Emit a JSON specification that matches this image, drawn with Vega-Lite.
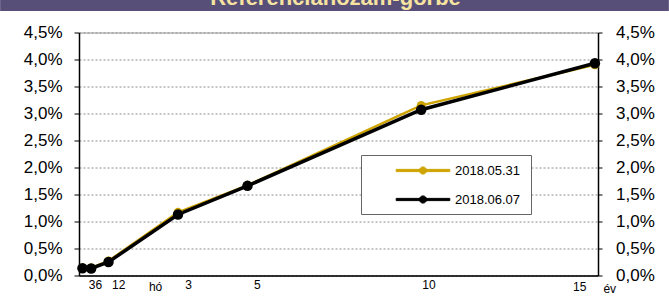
{
  "$schema": "https://vega.github.io/schema/vega-lite/v6.json",
  "padding": 0,
  "spacing": 11.5,
  "background": "white",
  "config": {"font": "Liberation Sans"},
  "datasets": {
    "curve": [
      {"date": "2018.05.31", "t": 0.25, "r": 0.14},
      {"date": "2018.05.31", "t": 0.5, "r": 0.14},
      {"date": "2018.05.31", "t": 1, "r": 0.27},
      {"date": "2018.05.31", "t": 3, "r": 1.17},
      {"date": "2018.05.31", "t": 5, "r": 1.67},
      {"date": "2018.05.31", "t": 10, "r": 3.15},
      {"date": "2018.05.31", "t": 15, "r": 3.9},
      {"date": "2018.06.07", "t": 0.25, "r": 0.135},
      {"date": "2018.06.07", "t": 0.5, "r": 0.13},
      {"date": "2018.06.07", "t": 1, "r": 0.25},
      {"date": "2018.06.07", "t": 3, "r": 1.13},
      {"date": "2018.06.07", "t": 5, "r": 1.66},
      {"date": "2018.06.07", "t": 10, "r": 3.07},
      {"date": "2018.06.07", "t": 15, "r": 3.93}
    ],
    "title": [{"title": "Referenciahozam-görbe"}]
  },
  "vconcat": [
    {
      "width": 519,
      "height": 11,
      "view": {"stroke": null},
      "data": {"name": "title"},
      "layer": [
        {
          "mark": {"type": "rect", "color": "#574f78"},
          "encoding": {
            "x": {"datum": -2.12, "type": "quantitative", "scale": {"domain": [0.15, 15.09], "nice": false, "zero": false}, "axis": null},
            "x2": {"datum": 17.13}
          }
        },
        {
          "mark": {"type": "text", "clip": true, "color": "#f6e3a0", "fontSize": 22, "fontWeight": "bold", "baseline": "alphabetic", "dy": -0.5, "dx": -3},
          "encoding": {"text": {"field": "title", "type": "nominal"}}
        }
      ]
    },
    {
      "width": 519,
      "height": 243,
      "view": {"stroke": "#999999", "strokeWidth": 1},
      "data": {"name": "curve"},
      "encoding": {
        "x": {
          "field": "t", "type": "quantitative",
          "scale": {"domain": [0.15, 15.09], "nice": false, "zero": false},
          "axis": {
            "values": [0.61, 1.28, 2.34, 3.29, 5.27, 10.21, 14.55],
            "labelExpr": "datum.value < 1 ? '36' : datum.value < 2 ? '12' : datum.value < 3 ? ['', '', '', '', 'hó'] : datum.value < 4 ? '3' : datum.value < 6 ? '5' : datum.value < 12 ? '10' : ['', '', '', '15', '\u200b\u00a0\u00a0\u00a0\u00a0\u00a0\u00a0\u00a0\u00a0\u00a0\u00a0\u00a0\u00a0\u00a0\u00a0\u00a0\u00a0\u00a0\u00a0év']",
            "title": null, "grid": false, "ticks": false,
            "domainColor": "black", "domainWidth": 1.5,
            "labelFontSize": 12, "labelColor": "black", "labelPadding": 4,
            "labelLineHeight": 2, "labelOverlap": false, "labelFlush": false, "labelBaseline": "top"
          }
        },
        "y": {"field": "r", "type": "quantitative", "scale": {"domain": [0, 4.5], "nice": false, "zero": true}, "axis": null},
        "color": {
          "field": "date", "type": "nominal",
          "scale": {"domain": ["2018.05.31", "2018.06.07"], "range": ["#cfa400", "#000000"]},
          "legend": {
            "title": null, "orient": "none", "legendX": 282, "legendY": 155, "direction": "vertical",
            "fillColor": "white", "strokeColor": "#666666", "padding": 7,
            "labelFontSize": 13, "labelColor": "black",
            "labelExpr": "datum.label + '\u00a0\u200b'",
            "symbolType": "M-3.35,-0.14H3.35V0.14H-3.35Z M-0.45,0A0.45,0.45 0 1 1 0.45,0A0.45,0.45 0 1 1 -0.45,0Z",
            "symbolSize": 256, "symbolStrokeWidth": 1, "symbolOffset": 46.5, "labelOffset": 23.5, "rowPadding": 13
          }
        }
      },
      "layer": [
        {
          "transform": [{"filter": "datum.date == '2018.05.31'"}],
          "mark": {"type": "line", "strokeWidth": 2.5},
          "encoding": {
            "y": {
              "field": "r", "type": "quantitative",
              "axis": {
                "orient": "left", "values": [0, 0.5, 1, 1.5, 2, 2.5, 3, 3.5, 4, 4.5],
                "labelExpr": "replace(format(datum.value, '.1f'), '.', ',') + '%'",
                "title": null, "grid": true, "gridDash": [2, 2], "gridColor": "#8c8c8c", "gridWidth": 1,
                "domainColor": "black", "domainWidth": 1.5, "tickColor": "black", "tickSize": 5, "tickWidth": 1,
                "labelFontSize": 17, "labelColor": "black", "labelPadding": 12
              }
            }
          }
        },
        {
          "transform": [{"filter": "datum.date == '2018.06.07'"}],
          "mark": {"type": "line", "strokeWidth": 3.5},
          "encoding": {
            "y": {
              "field": "r", "type": "quantitative",
              "axis": {
                "orient": "right", "values": [0, 0.5, 1, 1.5, 2, 2.5, 3, 3.5, 4, 4.5],
                "labelExpr": "replace(format(datum.value, '.1f'), '.', ',') + '%'",
                "title": null, "grid": false,
                "domainColor": "black", "domainWidth": 1.5, "tickColor": "black", "tickSize": 4, "tickWidth": 1,
                "labelFontSize": 17, "labelColor": "black", "labelPadding": 13.5
              }
            }
          }
        },
        {
          "transform": [{"filter": "datum.date == '2018.05.31'"}],
          "mark": {"type": "point", "filled": true, "opacity": 1, "size": 80},
          "encoding": {"y": {"field": "r", "type": "quantitative", "axis": null}}
        },
        {
          "transform": [{"filter": "datum.date == '2018.06.07'"}],
          "mark": {"type": "point", "filled": true, "opacity": 1, "size": 110},
          "encoding": {"y": {"field": "r", "type": "quantitative", "axis": null}}
        }
      ],
      "resolve": {"axis": {"y": "independent"}}
    }
  ]
}
